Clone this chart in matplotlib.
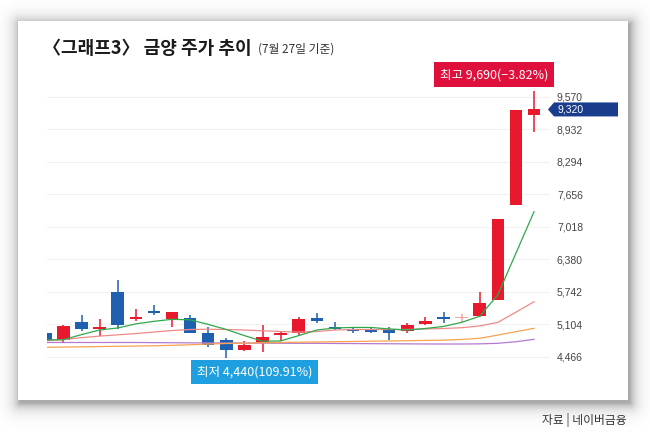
import numpy as np
import matplotlib
matplotlib.use('Agg')
import matplotlib.pyplot as plt
from matplotlib.patches import Rectangle, Polygon
from matplotlib.transforms import IdentityTransform

plt.rcParams['font.family'] = ['Noto Sans CJK KR', 'DejaVu Sans']

# ---------------- data ----------------
opens  = [4937, 4794, 5147, 5004, 5736, 5212, 5357, 5200, 5232, 4925, 4794, 4590, 4729, 4886,
          4937, 5220, 5055, 5010, 4990, 4990, 4976, 5102, 5251, 5220, 5265, 5570, 7450, 9220]
closes = [4774, 5074, 5016, 5043, 5082, 5251, 5318, 5343, 4937, 4696, 4590, 4696, 4847, 4937,
          5212, 5167, 5016, 4965, 4951, 4937, 5088, 5167, 5206, 5220, 5526, 7170, 9310, 9320]
highs  = [4960, 5088, 5290, 5200, 5972, 5408, 5475, 5343, 5279, 5055, 4830, 4780, 5088, 4957,
          5240, 5318, 5153, 5055, 5043, 5055, 5122, 5251, 5343, 5298, 5742, 7170, 9310, 9690]
lows   = [4774, 4760, 4976, 4872, 5004, 5173, 5290, 5043, 4937, 4662, 4440, 4570, 4564, 4780,
          4892, 5134, 4990, 4925, 4925, 4794, 4937, 5088, 5134, 5147, 5251, 5570, 7443, 8880]

ma5   = [4794, 4800, 4900, 4990, 5030, 5110, 5160, 5200, 5190, 5100, 5000, 4880, 4770, 4775,
         4880, 4990, 5030, 5040, 5040, 5010, 4990, 5020, 5060, 5140, 5260, 5680, 6496, 7312]
ma20  = [4780, 4800, 4840, 4870, 4895, 4920, 4950, 4980, 5000, 5005, 5000, 4990, 4975, 4960,
         4950, 4960, 4990, 5000, 5000, 5000, 5000, 5010, 5020, 5035, 5070, 5140, 5340, 5545]
ma60  = [4650, 4655, 4660, 4665, 4670, 4675, 4680, 4690, 4700, 4715, 4725, 4735, 4740, 4745,
         4750, 4755, 4760, 4765, 4770, 4775, 4780, 4785, 4790, 4805, 4827, 4890, 4957, 5023]
ma120 = [4745, 4745, 4745, 4745, 4745, 4745, 4742, 4740, 4738, 4736, 4735, 4733, 4731, 4730,
         4729, 4728, 4726, 4724, 4722, 4720, 4718, 4716, 4715, 4715, 4718, 4729, 4760, 4807]

yticks = [4466, 5104, 5742, 6380, 7018, 7656, 8294, 8932, 9570]
ytick_labels = ['4,466', '5,104', '5,742', '6,380', '7,018', '7,656', '8,294', '8,932', '9,570']

title = '〈그래프3〉 금양 주가 추이'
subtitle = '(7월 27일 기준)'
high_label = '최고 9,690(−3.82%)'
low_label = '최저 4,440(109.91%)'
last_label = '9,320'
last_price = 9320
source = '자료 | 네이버금융'

# ---------------- styles ----------------
RED = '#e8192c'
BLUE = '#1f5fb0'
FLAT = '#f4a0a0'
W, H = 650, 434

fig = plt.figure(figsize=(W / 100, H / 100), dpi=100)
fig.patch.set_facecolor('white')

# background with card shadow
bg = fig.add_axes([0, 0, 1, 1])
bg.set_xlim(0, W)
bg.set_ylim(H, 0)
bg.axis('off')
yy, xx = np.mgrid[0:H, 0:W] + 0.5
x0, x1, y0, y1 = 18 + 2, 628 + 2, 21 + 3, 400 + 3
ddx = np.maximum(np.maximum(x0 - xx, xx - x1), 0)
ddy = np.maximum(np.maximum(y0 - yy, yy - y1), 0)
d = np.hypot(ddx, ddy)
rgba = np.zeros((H, W, 4))
rgba[..., 3] = 0.33 * np.exp(-d / 6.5)
bg.imshow(rgba, extent=(0, W, H, 0), interpolation='bilinear', aspect='auto')
bg.add_patch(Rectangle((18, 21), 610, 379, facecolor='white', edgecolor='none'))

# main axes (pixel layout)
ax = fig.add_axes([47 / W, 1 - 375.34 / H, (550 - 47) / W, (375.34 - 79.89) / H])
ax.set_facecolor('none')
ax.set_xlim((47 - 45.3) / 18.1, (550 - 45.3) / 18.1)
ax.set_ylim(4100, 9900)
for s in ax.spines.values():
    s.set_visible(False)
ax.set_xticks([])
ax.set_yticks(yticks)
ax.set_yticklabels(ytick_labels)
ax.yaxis.tick_right()
ax.tick_params(axis='y', length=0, pad=5, labelsize=7.5, labelcolor='#444444')
for lbl in ax.get_yticklabels():
    lbl.set_family(['Liberation Sans Narrow', 'Liberation Sans', 'DejaVu Sans'])
ax.yaxis.grid(True, color='#f2f2f2', lw=0.8, zorder=0)
ax.set_axisbelow(True)

# candles
x = np.arange(len(opens))
o = np.array(opens, float)
c = np.array(closes, float)
colors = [RED if cc > oo else (BLUE if cc < oo else FLAT) for oo, cc in zip(o, c)]
body_bottom = np.minimum(o, c)
body_h = np.maximum(np.abs(c - o), 35)
ax.vlines(x, lows, highs, colors=colors, lw=1.1, zorder=2)
ax.bar(x, body_h, bottom=body_bottom, width=0.69, color=colors, zorder=2, linewidth=0)

# moving averages
ax.plot(x, ma120, color='#b57ad0', lw=0.9, zorder=3)
ax.plot(x, ma60, color='#f7a350', lw=0.9, zorder=3)
ax.plot(x, ma20, color='#f08a8a', lw=0.9, zorder=3)
ax.plot(x, ma5, color='#2ea84a', lw=0.9, zorder=3)

# high / low annotations
hi_i = int(np.argmax(highs))
lo_i = int(np.argmin(lows))
ax.annotate(high_label, xy=(hi_i, highs[hi_i]), xytext=(-40, 16), textcoords='offset pixels',
            ha='center', va='center', color='white', fontsize=9,
            bbox=dict(boxstyle='square,pad=0.45', fc='#e0103c', ec='none'),
            annotation_clip=False, zorder=6)
ax.annotate(low_label, xy=(lo_i, lows[lo_i]), xytext=(28, -14), textcoords='offset pixels',
            ha='center', va='center', color='white', fontsize=9,
            bbox=dict(boxstyle='square,pad=0.45', fc='#1ea0e0', ec='none'),
            annotation_clip=False, zorder=6)

# last price badge
yd = ax.transData.transform((0, last_price))[1]
hh = 7
pts = [(548, yd), (554, yd + hh), (618, yd + hh), (618, yd - hh), (554, yd - hh)]
fig.add_artist(Polygon(pts, closed=True, transform=IdentityTransform(),
                       fc='#1a3c8c', ec='none', zorder=5))
fig.text(557 / W, yd / H, last_label, color='white', fontsize=7.5, ha='left', va='center',
         family=['Liberation Sans Narrow', 'Liberation Sans', 'DejaVu Sans'], zorder=6)

# titles
t = fig.text(43 / W, 1 - 48 / H, title, fontsize=13, fontweight='bold', ha='left',
             va='center', color='#1a1a1a')
fig.canvas.draw()
ext = t.get_window_extent()
fig.text((ext.x1 + 6) / W, 1 - 49 / H, subtitle, fontsize=8.5, ha='left', va='center',
         color='#333333')

fig.text(627 / W, 1 - 420 / H, source, fontsize=8.5, ha='right', va='center', color='#333333')

fig.savefig('out.png', dpi=100)
